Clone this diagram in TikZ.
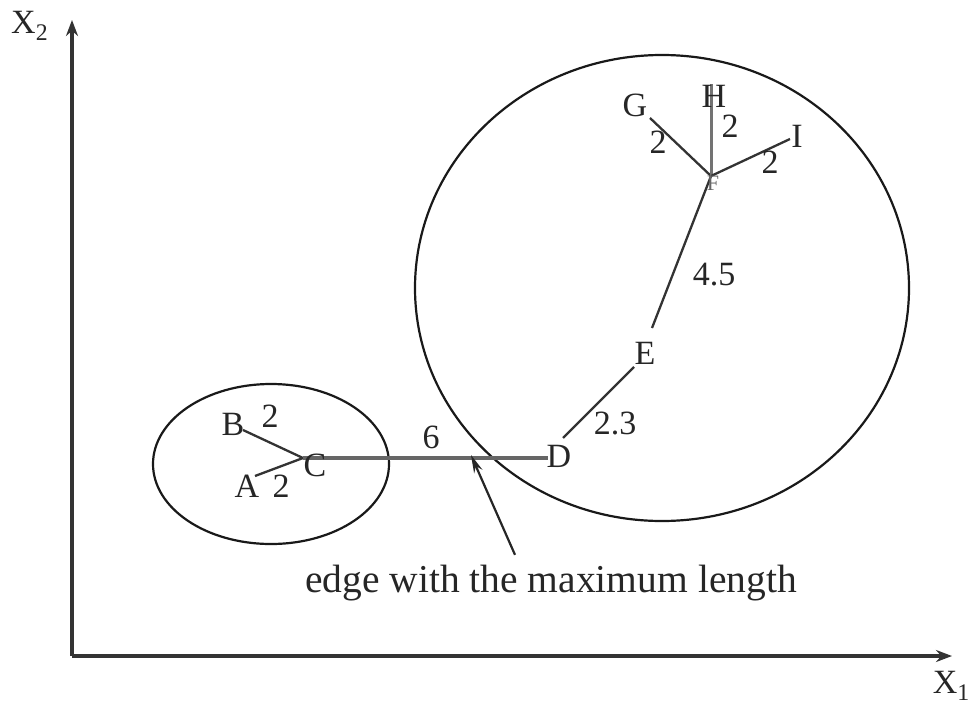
\documentclass[tikz,border=0pt]{standalone}
\usepackage{fontspec}
\setmainfont{Liberation Serif}
\usetikzlibrary{arrows.meta}
\begin{document}
\begin{tikzpicture}[x=1pt,y=-1pt,
  lbl/.style={inner sep=0pt,font=\fontsize{34}{38}\selectfont,text=black!85},
  edgeline/.style={draw=black!80,line width=2.3pt},
  maxedge/.style={draw=black!60,line width=4.5pt},
  axis/.style={draw=black!80,line width=3.2pt,-{Stealth[length=16pt,width=12pt]}},
  cluster/.style={draw=black!90,line width=2.2pt}]
\useasboundingbox (0,0) rectangle (972,707);
% axes
\coordinate (O) at (72,656);
\coordinate (Ytop) at (72,20);
\coordinate (Xend) at (952,656);
\draw[axis] (O) -- (Ytop);
\draw[axis] (O) -- (Xend);
\node[anchor=west,inner sep=0pt,font=\fontsize{34}{38}\selectfont,text=black!85] (x2) at (11,26) {X\textsubscript{2}};
\node[anchor=east,inner sep=0pt,font=\fontsize{34}{38}\selectfont,text=black!85] (x1) at (970,686) {X\textsubscript{1}};
% clusters
\draw[cluster] (271,464) ellipse [x radius=118, y radius=80];
\draw[cluster] (662,288) ellipse [x radius=247, y radius=233];
% vertex points
\coordinate (pA) at (255,476);
\coordinate (pB) at (243,430);
\coordinate (pC) at (303,458);
\coordinate (pD) at (548,458);
\coordinate (pD2) at (563,438);
\coordinate (pE) at (634,367);
\coordinate (pE2) at (652,328);
\coordinate (pF) at (711,176);
\coordinate (pG) at (650,118);
\coordinate (pH) at (711,84);
\coordinate (pI) at (790,139);
% edges
\draw[edgeline] (pB) -- (pC);
\draw[edgeline] (pA) -- (pC);
\draw[maxedge] (pC) -- (pD);
\draw[edgeline] (pD2) -- (pE);
\draw[edgeline] (pE2) -- (pF);
\draw[edgeline] (pG) -- (pF);
\draw[draw=black!55,line width=3pt] (pH) -- (pF);
\draw[edgeline] (pF) -- (pI);
% vertex labels
\node[lbl] (A) at (247,486) {A};
\node[lbl] (B) at (233,424) {B};
\node[lbl] (C) at (315,465) {C};
\node[lbl] (D) at (559,456) {D};
\node[lbl] (E) at (645,353) {E};
\node[inner sep=0pt,font=\fontsize{22}{24}\selectfont,text=black!60] (F) at (713,183) {F};
\node[lbl] (G) at (635,105) {G};
\node[lbl] (H) at (714,96) {H};
\node[lbl] (I) at (797,136) {I};
% weights
\node[lbl] (wA) at (281,486) {2};
\node[lbl] (wB) at (270,416) {2};
\node[lbl] (w6) at (431,437) {6};
\node[lbl] (w23) at (615,423) {2.3};
\node[lbl] (w45) at (714,275) {4.5};
\node[lbl] (wG) at (658,142) {2};
\node[lbl] (wH) at (730,126) {2};
\node[lbl] (wI) at (770,162) {2};
% caption
\node[inner sep=0pt,font=\fontsize{39.5}{42}\selectfont,text=black!85] (cap) at (551,583) {edge with the maximum length};
\coordinate (tip) at (471,455);
\draw[draw=black!85,line width=2.2pt,-{Stealth[length=18pt,width=9pt]}] (cap.north) ++(-36,-10) coordinate (tail) -- (tip);
\end{tikzpicture}
\end{document}
